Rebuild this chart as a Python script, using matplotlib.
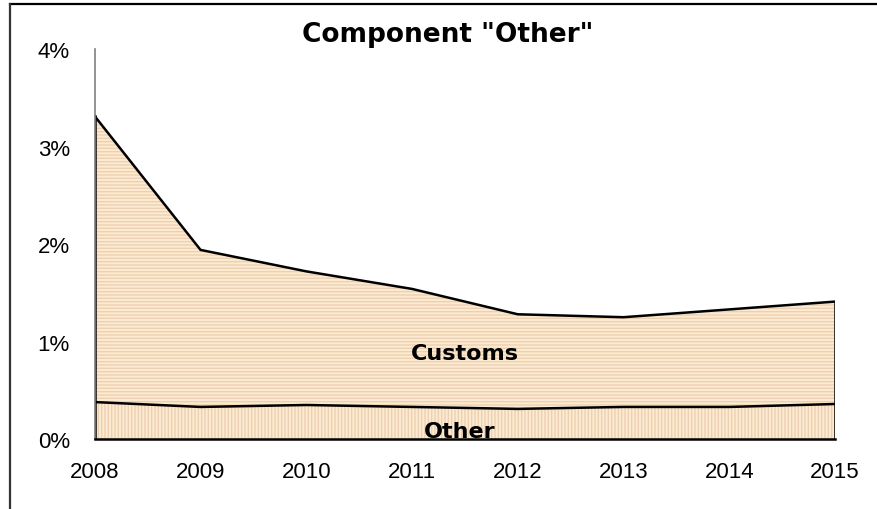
import matplotlib.pyplot as plt
from matplotlib.lines import Line2D

# Component "Other" as a share, stacked: Other at the bottom, Customs on top
years = [2008, 2009, 2010, 2011, 2012, 2013, 2014, 2015]
other = [0.38, 0.33, 0.35, 0.33, 0.31, 0.33, 0.33, 0.36]
customs = [2.93, 1.61, 1.37, 1.21, 0.97, 0.92, 1.00, 1.05]
y_ticks = [0, 1, 2, 3, 4]
y_labels = ['0%', '1%', '2%', '3%', '4%']

FACE = '#FCEBD2'
HATCH = '#EDD0B0'

fig = plt.figure(figsize=(8.78, 5.10), dpi=100)
ax = fig.add_axes([0.108, 0.137, 0.843, 0.765])

total = [o + c for o, c in zip(other, customs)]

# striped fills: vertical for Other, horizontal for Customs
ax.fill_between(years, 0, other, facecolor=FACE, edgecolor=HATCH,
                hatch='|||||', linewidth=0)
ax.fill_between(years, other, total, facecolor=FACE, edgecolor=HATCH,
                hatch='-----', linewidth=0)

# outlines
ax.plot(years, other, color='black', lw=1.8, solid_joinstyle='miter')
ax.plot(years, total, color='black', lw=1.8, solid_joinstyle='miter')
ax.plot([years[-1], years[-1]], [0, total[-1]], color='black', lw=1.8)
ax.plot([years[0], years[0]], [0, total[0]], color='black', lw=1.8)

ax.set_xlim(years[0], years[-1])
ax.set_ylim(0, 4)
ax.set_xticks(years)
ax.set_xticklabels([str(y) for y in years], family='Liberation Sans', fontsize=16)
ax.set_yticks(y_ticks)
ax.set_yticklabels(y_labels, family='Liberation Sans', fontsize=16)
ax.tick_params(axis='both', length=0)
ax.tick_params(axis='y', pad=18)
ax.tick_params(axis='x', pad=16)

for side in ['top', 'right']:
    ax.spines[side].set_visible(False)
ax.spines['left'].set_color('#808080')
ax.spines['left'].set_linewidth(1.2)
ax.spines['bottom'].set_color('black')
ax.spines['bottom'].set_linewidth(1.8)

ax.text(2011.5, 0.88, 'Customs', ha='center', va='center',
        fontsize=16, fontweight='bold', family='DejaVu Sans')
ax.text(2011.45, 0.08, 'Other', ha='center', va='center',
        fontsize=16, fontweight='bold', family='DejaVu Sans')

fig.text(0.51, 0.931, 'Component "Other"', ha='center', va='center',
         fontsize=19, fontweight='bold', family='DejaVu Sans')

# frame lines along the top and left of the figure
fig.add_artist(Line2D([0.0114, 1.0], [0.99, 0.99], transform=fig.transFigure,
                      color='black', lw=1.6))
fig.add_artist(Line2D([0.0114, 0.0114], [0.0, 0.99], transform=fig.transFigure,
                      color='#333333', lw=1.6))

fig.savefig('out.png', dpi=100, facecolor='white')
